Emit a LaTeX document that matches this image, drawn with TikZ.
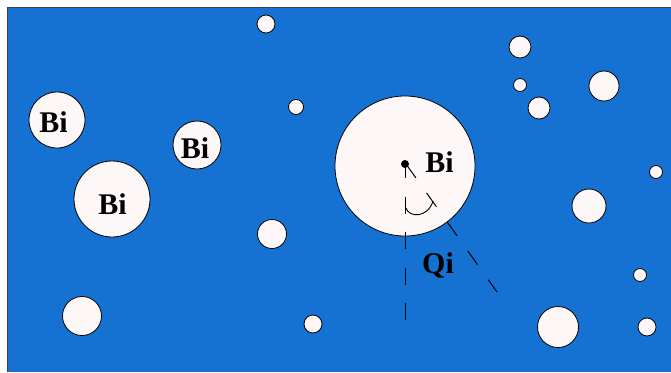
\documentclass[tikz,border=0pt]{standalone}
\usepackage{fontspec}
\setmainfont{Liberation Serif}
\begin{document}
\begin{tikzpicture}[x=1pt,y=-1pt,
  bubble/.style={circle,draw=black,line width=0.8pt,fill=bubblefill,inner sep=0pt,minimum size=#1},
  lbl/.style={anchor=base,inner sep=0pt,font=\fontsize{30}{30}\selectfont\bfseries},
  guide/.style={draw=black,line width=1pt,dash pattern=on 17pt off 18.5pt}]
\definecolor{bg}{RGB}{21,114,211}
\definecolor{bubblefill}{RGB}{253,247,247}
\useasboundingbox (0,0) rectangle (671,372);
\fill[white] (0,0) rectangle (671,372);
\fill[bg] (7,7.5) rectangle (671,372);
\draw[line width=0.8pt,black!75] (7,372) -- (7,7.5) -- (671,7.5);
% small bubbles
\node[bubble=18pt] (s1) at (266,24) {};
\node[bubble=22pt] (s2) at (520,47) {};
\node[bubble=13pt] (s3) at (520,85) {};
\node[bubble=30pt] (s4) at (604,86) {};
\node[bubble=22pt] (s5) at (539,108) {};
\node[bubble=15pt] (s6) at (296,107) {};
\node[bubble=13pt] (s7) at (656,172) {};
\node[bubble=34pt] (s8) at (589,206) {};
\node[bubble=29pt] (s9) at (272,234) {};
\node[bubble=13pt] (s10) at (640,275) {};
\node[bubble=39pt] (s11) at (82,316) {};
\node[bubble=18pt] (s12) at (313,324) {};
\node[bubble=41pt] (s13) at (558,327) {};
\node[bubble=18pt] (s14) at (647,327) {};
% labelled bubbles
\node[bubble=56pt] (b1) at (57,120) {};
\node[bubble=48pt] (b2) at (197,145) {};
\node[bubble=76pt] (b3) at (112,199) {};
\node[bubble=140pt] (big) at (405,166) {};
\node[lbl] (t1) at (53.5,132) {Bi};
\node[lbl] (t2) at (195,158) {Bi};
\node[lbl] (t3) at (112.5,214) {Bi};
\node[lbl] (t4) at (439.5,172) {Bi};
\node[lbl] (q) at (438,273) {Qi};
% centre dot and guides
\node[circle,fill=black,inner sep=0pt,minimum size=8pt] (dot) at (405,164) {};
\coordinate (vstart) at (405,161);
\coordinate (vend) at (405,320);
\coordinate (dstart) at (406,164);
\coordinate (dend) at (497,292);
\draw[guide] (vstart) -- (vend);
\draw[guide] (dstart) -- (dend);
\coordinate (a1) at (406,208);
\coordinate (a2) at (433,201);
\draw[line width=0.9pt] (a1) .. controls (409,218) and (428,218) .. (a2);
\end{tikzpicture}
\end{document}
